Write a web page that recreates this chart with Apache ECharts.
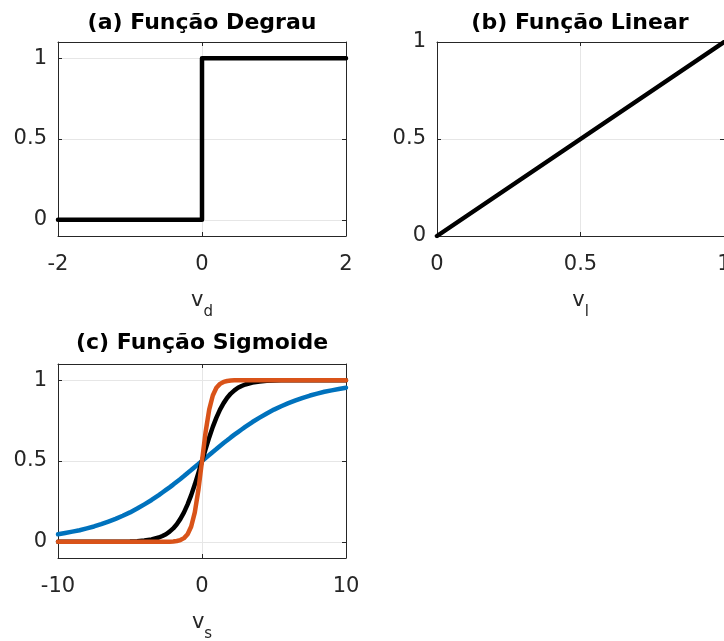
<html>
<head>
    <meta charset="utf-8">
    <script src="https://cdn.jsdelivr.net/npm/echarts@6/dist/echarts.min.js"></script>
</head>
<style>
    body {
        margin: 0;
        background: #fff;
    }

    #fig {
        width: 724px;
        height: 641px;
    }
</style>

<body>
    <div id="fig"></div>
    <script>
        // (a) step
        const degrauX = [-2, 0, 0, 2]
        const degrauY = [0, 0, 1, 1]
        // (b) linear
        const linearX = [0, 1]
        const linearY = [0, 1]
        // (c) sigmoid, three slopes
        const sigX = [-10, -9.5, -9, -8.5, -8, -7.5, -7, -6.5, -6, -5.5, -5, -4.5, -4, -3.5,
            -3, -2.75, -2.5, -2.25, -2, -1.75, -1.5, -1.25, -1, -0.75, -0.5, -0.25,
            0,
            0.25, 0.5, 0.75, 1, 1.25, 1.5, 1.75, 2, 2.25, 2.5, 2.75, 3,
            3.5, 4, 4.5, 5, 5.5, 6, 6.5, 7, 7.5, 8, 8.5, 9, 9.5, 10]
        const sigAzul = [0.047, 0.055, 0.063, 0.072, 0.083, 0.095, 0.109, 0.125, 0.142, 0.161, 0.182, 0.206, 0.232, 0.259,
            0.289, 0.305, 0.321, 0.337, 0.354, 0.372, 0.389, 0.407, 0.426, 0.444, 0.463, 0.481,
            0.5,
            0.519, 0.537, 0.556, 0.574, 0.593, 0.611, 0.628, 0.646, 0.663, 0.679, 0.695, 0.711,
            0.741, 0.768, 0.794, 0.818, 0.839, 0.858, 0.875, 0.891, 0.905, 0.917, 0.928, 0.937, 0.945, 0.953]
        const sigPreta = [0, 0, 0, 0, 0, 0, 0, 0, 0.001, 0.001, 0.002, 0.004, 0.008, 0.015,
            0.027, 0.036, 0.047, 0.063, 0.083, 0.109, 0.142, 0.182, 0.232, 0.289, 0.354, 0.426,
            0.5,
            0.574, 0.646, 0.711, 0.768, 0.818, 0.858, 0.891, 0.917, 0.937, 0.953, 0.964, 0.973,
            0.985, 0.992, 0.996, 0.998, 0.999, 0.999, 1, 1, 1, 1, 1, 1, 1, 1]
        const sigLaranja = [0, 0, 0, 0, 0, 0, 0, 0, 0, 0, 0, 0, 0, 0,
            0, 0, 0.001, 0.001, 0.002, 0.005, 0.011, 0.023, 0.047, 0.095, 0.182, 0.321,
            0.5,
            0.679, 0.818, 0.905, 0.953, 0.977, 0.989, 0.995, 0.998, 0.999, 0.999, 1, 1,
            1, 1, 1, 1, 1, 1, 1, 1, 1, 1, 1, 1, 1, 1]

        const ticksA = [-2, 0, 2]
        const ticksB = [0, 0.5, 1]
        const ticksC = [-10, 0, 10]
        const ticksY = [0, 0.5, 1]

        const font = 'DejaVu Sans'
        const ink = '#262626'
        const gridGray = '#e6e6e6'

        function pares(xs, ys) {
            return xs.map(function (x, i) { return [x, ys[i]] })
        }

        function eixosX(gi, min, max, ticks, sub) {
            return [{
                type: 'value', gridIndex: gi, position: 'bottom', min: min, max: max,
                axisLine: { onZero: false, lineStyle: { color: ink, width: 1 } },
                axisTick: { inside: true, length: 4, customValues: ticks, lineStyle: { color: ink } },
                axisLabel: { customValues: ticks, margin: 18, color: ink, fontFamily: font, fontSize: 21, showMinLabel: true, showMaxLabel: true },
                splitLine: { show: true, lineStyle: { color: gridGray, width: 1 } },
                // v with a subscript
                name: '{v|v}{s|' + sub + '}',
                nameLocation: 'middle',
                nameGap: 54,
                nameTextStyle: {
                    color: ink,
                    rich: {
                        v: { fontFamily: font, fontSize: 21, color: ink, height: 22, lineHeight: 30, verticalAlign: 'top' },
                        s: { fontFamily: font, fontSize: 15, color: ink, height: 16, lineHeight: 30, verticalAlign: 'bottom' }
                    }
                }
            }, {
                type: 'value', gridIndex: gi, position: 'top', min: min, max: max,
                axisLine: { onZero: false, lineStyle: { color: ink, width: 1 } },
                axisTick: { inside: true, length: 4, customValues: ticks, lineStyle: { color: ink } },
                axisLabel: { show: false },
                splitLine: { show: false }
            }]
        }

        function eixosY(gi, min, max) {
            return [{
                type: 'value', gridIndex: gi, position: 'left', min: min, max: max,
                axisLine: { onZero: false, lineStyle: { color: ink, width: 1 } },
                axisTick: { inside: true, length: 4, customValues: ticksY, lineStyle: { color: ink } },
                axisLabel: { customValues: ticksY, margin: 11, color: ink, fontFamily: font, fontSize: 21, showMinLabel: true, showMaxLabel: true },
                splitLine: { show: true, lineStyle: { color: gridGray, width: 1 } }
            }, {
                type: 'value', gridIndex: gi, position: 'right', min: min, max: max,
                axisLine: { onZero: false, lineStyle: { color: ink, width: 1 } },
                axisTick: { inside: true, length: 4, customValues: ticksY, lineStyle: { color: ink } },
                axisLabel: { show: false },
                splitLine: { show: false }
            }]
        }

        function titulo(txt, x, y) {
            return {
                type: 'text', x: x, y: y,
                style: { text: txt, font: 'bold 22px "DejaVu Sans"', fill: '#000', align: 'center', verticalAlign: 'top' }
            }
        }

        function linha(xi, data, color) {
            return {
                type: 'line', xAxisIndex: xi, yAxisIndex: xi, data: data,
                showSymbol: false, smooth: false,
                lineStyle: { color: color, width: 4.5, join: 'round', cap: 'round' }, animation: false
            }
        }

        const option = {
            backgroundColor: '#fff',
            animation: false,
            grid: [
                { left: 58, top: 42, width: 288, height: 194, outerBoundsMode: 'none' },
                { left: 437, top: 42, width: 287, height: 194, outerBoundsMode: 'none' },
                { left: 58, top: 364, width: 288, height: 194, outerBoundsMode: 'none' }
            ],
            xAxis: [].concat(eixosX(0, -2, 2, ticksA, 'd'), eixosX(1, 0, 1, ticksB, 'l'), eixosX(2, -10, 10, ticksC, 's')),
            yAxis: [].concat(eixosY(0, -0.1, 1.1), eixosY(1, 0, 1), eixosY(2, -0.1, 1.1)),
            graphic: [
                titulo('(a) Função Degrau', 202, 12),
                titulo('(b) Função Linear', 580, 12),
                titulo('(c) Função Sigmoide', 202, 332)
            ],
            series: [
                linha(0, pares(degrauX, degrauY), '#000'),
                linha(2, pares(linearX, linearY), '#000'),
                linha(4, pares(sigX, sigAzul), '#0072BD'),
                linha(4, pares(sigX, sigPreta), '#000'),
                linha(4, pares(sigX, sigLaranja), '#D95319')
            ]
        }

        const chart = echarts.init(document.getElementById('fig'))
        chart.setOption(option)
    </script>
</body>

</html>
